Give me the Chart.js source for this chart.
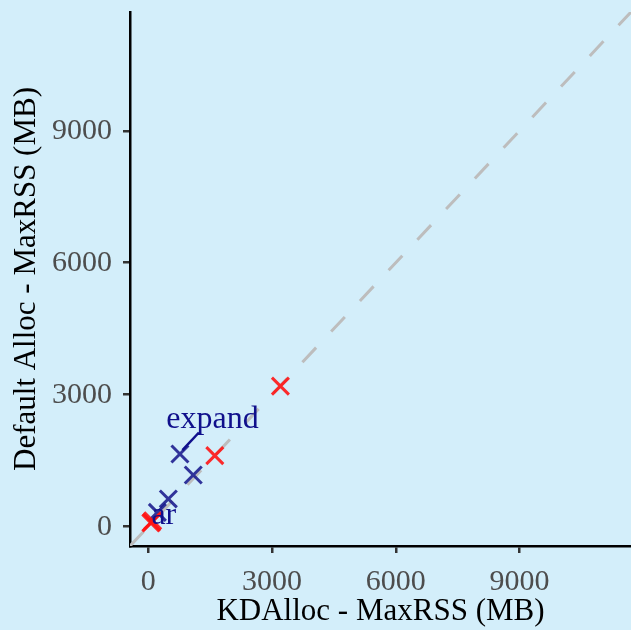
<!DOCTYPE html>
<html>
<head>
<meta charset="utf-8">
<script src="https://cdn.jsdelivr.net/npm/chart.js@4"></script>
<style>
  html, body { margin: 0; padding: 0; background: #d3eefa; }
  #wrap { width: 631px; height: 630px; }
</style>
</head>
<body>
<div id="wrap"><canvas id="memChart" width="631" height="630"></canvas></div>
<script>
// KDAlloc vs default allocator peak memory (MB)
const kdallocRed = [3205, 1615, 85, 110, 65];
const defaultRed = [3195, 1614, 100, 135, 85];
const kdallocBlue = [770, 1093, 489, 223];
const defaultBlue = [1652, 1175, 630, 325];
const tickValues = [0, 3000, 6000, 9000];
const axisRange = [-440, 11700];
// point labels: text, label centre, segment start/end (data units)
const pointLabels = [
  { text: "expand", at: [1560, 2440], seg: [[830, 1740], [1230, 2140]] },
  { text: "ar", at: [380, 245], seg: null },
];

const serif = "'Liberation Serif', 'DejaVu Serif', serif";

const toPoints = (xs, ys) => xs.map((x, i) => ({ x: x, y: ys[i] }));

const labelPlugin = {
  id: "pointLabels",
  afterDatasetsDraw(chart) {
    const { ctx, scales } = chart;
    ctx.save();
    pointLabels.forEach((lab) => {
      if (lab.seg) {
        ctx.strokeStyle = "#10108c";
        ctx.lineWidth = 2.5;
        ctx.beginPath();
        ctx.moveTo(scales.x.getPixelForValue(lab.seg[0][0]), scales.y.getPixelForValue(lab.seg[0][1]));
        ctx.lineTo(scales.x.getPixelForValue(lab.seg[1][0]), scales.y.getPixelForValue(lab.seg[1][1]));
        ctx.stroke();
      }
      ctx.fillStyle = "#10108c";
      ctx.font = "32px " + serif;
      ctx.textAlign = "center";
      ctx.textBaseline = "middle";
      ctx.fillText(lab.text, scales.x.getPixelForValue(lab.at[0]), scales.y.getPixelForValue(lab.at[1]));
    });
    ctx.restore();
  },
};

const axisOpts = (title, fitKey, fitSize) => ({
  type: "linear",
  min: axisRange[0],
  max: axisRange[1],
  afterBuildTicks: (scale) => {
    scale.ticks = tickValues.map((v) => ({ value: v }));
  },
  afterFit: (scale) => {
    scale[fitKey] = fitSize;
    scale.paddingTop = 0;
    scale.paddingBottom = 0;
    scale.paddingLeft = 0;
    scale.paddingRight = 0;
  },
  grid: {
    drawOnChartArea: false,
    drawTicks: true,
    tickLength: 7,
    tickColor: "#333333",
    lineWidth: 2.5,
  },
  border: { display: true, color: "#000000", width: 2.5 },
  ticks: {
    color: "#4d4d4d",
    font: { family: serif, size: 30 },
    padding: 11,
    callback: (value) => String(value),
  },
  title: {
    display: true,
    text: title,
    color: "#000000",
    font: { family: serif, size: 31 },
    padding: 0,
  },
});

const ctx = document.getElementById("memChart").getContext("2d");

new Chart(ctx, {
  type: "scatter",
  data: {
    datasets: [
      {
        data: toPoints(kdallocRed, defaultRed),
        pointStyle: "crossRot",
        pointRadius: 12,
        borderColor: "rgba(255, 20, 20, 0.9)",
        borderWidth: 3,
        order: 1,
      },
      {
        data: toPoints(kdallocBlue, defaultBlue),
        pointStyle: "crossRot",
        pointRadius: 12,
        borderColor: "rgba(25, 25, 140, 0.88)",
        borderWidth: 3,
        order: 2,
      },
      {
        type: "line",
        data: toPoints(axisRange, axisRange),
        borderColor: "#bdbdbd",
        borderWidth: 3,
        borderDash: [20, 22],
        pointRadius: 0,
        order: 3,
      },
    ],
  },
  options: {
    responsive: false,
    animation: false,
    layout: { autoPadding: false, padding: { top: 12, right: 0, left: 8, bottom: 0 } },
    plugins: {
      legend: { display: false },
      tooltip: { enabled: false },
    },
    scales: {
      x: axisOpts("KDAlloc - MaxRSS (MB)", "height", 84),
      y: axisOpts("Default Alloc - MaxRSS (MB)", "width", 122),
    },
  },
  plugins: [labelPlugin],
});
</script>
</body>
</html>
